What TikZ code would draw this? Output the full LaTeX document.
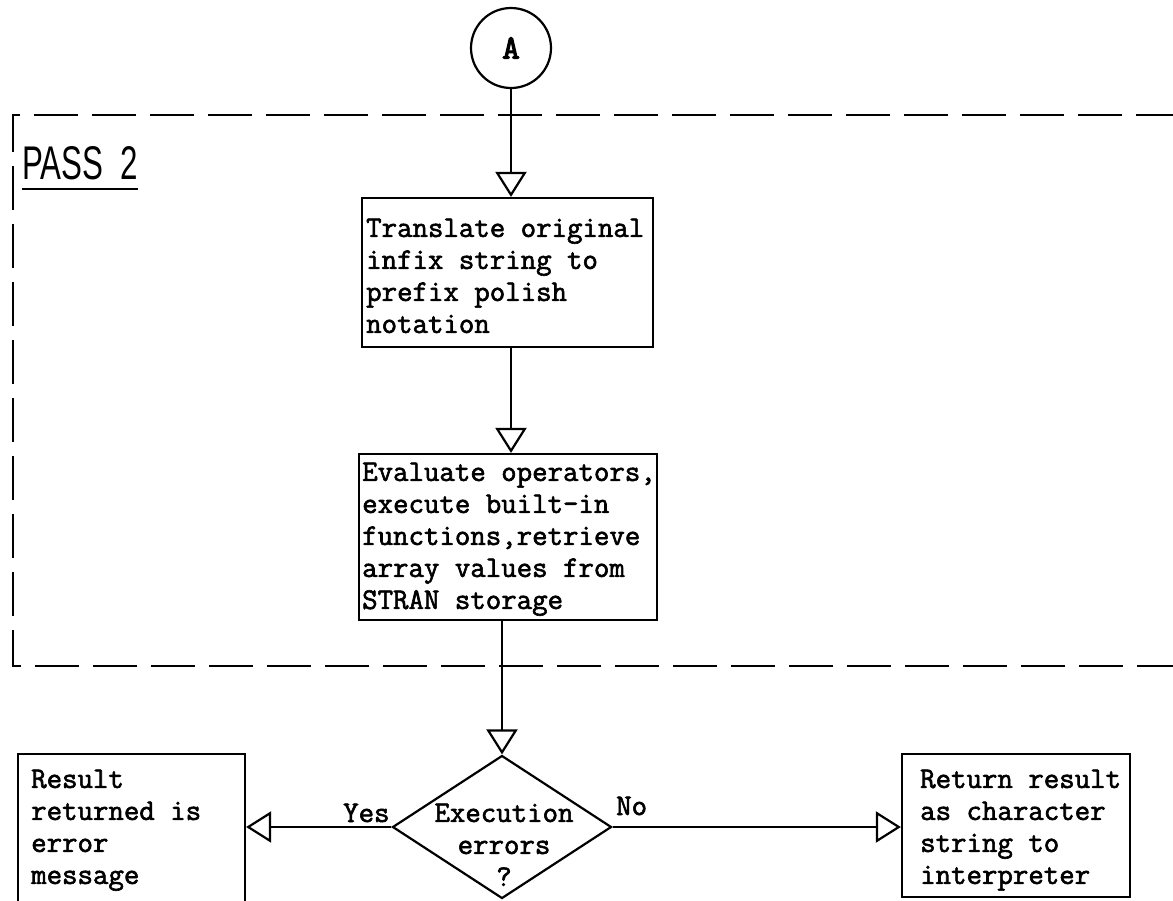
\documentclass[tikz,border=0pt]{standalone}
\usepackage{fontspec}
\usetikzlibrary{arrows.meta,shapes.geometric}
\newfontfamily\typew[FakeBold=2]{Latin Modern Mono}
\newfontfamily\typewbold[FakeBold=3.5]{Latin Modern Mono}
\newfontfamily\headsans{Liberation Sans}
\tikzset{
  stroke/.style={line width=2.2pt},
  flow/.style={stroke, -{Triangle[open,length=25pt,width=31pt]}},
  procbox/.style={draw, stroke, rectangle, inner sep=0pt},
  frame/.style={line width=2pt, dash pattern=on 44pt off 14pt},
  tw/.style={inner sep=0pt, align=left, font=\typew\fontsize{30}{32}\selectfont},
}
\begin{document}
\begin{tikzpicture}[x=1pt,y=-1pt]
\useasboundingbox (0,0) rectangle (1173,900);
\clip (0,0) rectangle (1173,900);

% connector circle
\node[draw, stroke, circle, minimum size=80pt, inner sep=0pt,
      font=\typewbold\fontsize{34}{36}\selectfont] (A) at (511,48) {A};

% PASS 2 region
\draw[frame] (1180,115) -- (13,115) -- (13,666) -- (1180,666);
\node[anchor=south west, inner sep=0pt] (pass) at (22,180)
  {\resizebox{116pt}{33pt}{\headsans PASS\ \ 2}};
\draw[line width=2.4pt] ([yshift=-9pt]pass.south west) -- ([yshift=-9pt]pass.south east);

% process boxes
\node[procbox, minimum width=291pt, minimum height=149pt] (b1) at (507.5,272.5) {};
\node[tw, anchor=north west] (b1t) at (366,218.4)
  {Translate original\\infix string to\\prefix polish\\notation};

\node[procbox, minimum width=298pt, minimum height=166pt] (b2) at (508,537) {};
\node[tw, anchor=north west] (b2t) at (362,462.4)
  {Evaluate operators,\\execute built-in\\functions,retrieve\\array values from\\STRAN storage};

% decision
\node[draw, stroke, diamond, minimum width=219pt, minimum height=143pt,
      inner sep=0pt] (q) at (502,827) {};
\node[tw, align=center, anchor=north] (qt) at (504,803.4) {Execution\\errors\\?};

% outcome boxes
\node[procbox, minimum width=227pt, minimum height=156pt] (lbox) at (131.5,832) {};
\node[tw, anchor=north west] (lt) at (31,769.4)
  {Result\\returned is\\error\\message};

\node[procbox, minimum width=228pt, minimum height=143pt] (rbox) at (1016,825.5) {};
\node[tw, anchor=north west] (rt) at (920,769.4)
  {Return result\\as character\\string to\\interpreter};

% connectors
\draw[flow] (A.south) -- (A |- b1.north);
\draw[flow] (b1.south -| A) -- (b2.north -| A);
\draw[flow] (b2.south -| q) -- (q.north);
\draw[flow] (q.west) -- (q.west -| lbox.east);
\draw[flow] (q.east) -- (q.east -| rbox.west);

% branch labels
\node[tw, anchor=base west] (yes) at (343,822) {Yes};
\node[tw, anchor=base west] (no) at (616,815) {No};
\end{tikzpicture}
\end{document}
